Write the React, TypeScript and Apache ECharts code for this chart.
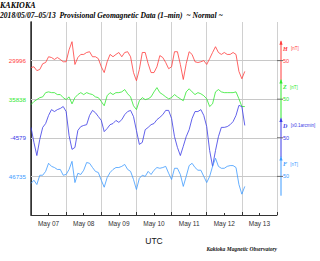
import React, { useEffect, useRef } from 'react';
import * as echarts from 'echarts';

// ---- data (2-hour samples from 2018-05-07 00:00 UTC) ----
const DAY_LABELS = ['May 07', 'May 08', 'May 09', 'May 10', 'May 11', 'May 12', 'May 13'];
const STEP_HOURS = 2;

const H_BASE = 29996;
const Z_BASE = 35838;
const D_BASE = -4579;
const F_BASE = 46735;

const H_VALUES = [
  29978, 29980, 29970, 29973, 29988, 29991, 30006, 30004, 29999, 30004,
  29999, 29993, 29993, 30024, 30045, 29986, 30004, 30012, 30012, 30017,
  30019, 30006, 30006, 30001, 29980, 29965, 29993, 30012, 30006, 30012,
  30017, 30006, 30017, 30019, 30006, 29965, 29944, 29973, 30017, 30017,
  29988, 29965, 29965, 29980, 30009, 30004, 29991, 29975, 29980, 30019,
  30019, 29986, 29947, 29988, 30019, 30012, 29993, 29991, 29993, 29996,
  29986, 30001, 30017, 30032, 30017, 30012, 30017, 30012, 30012, 30017,
  30012, 29968, 29949, 29968,
];
const Z_VALUES = [
  35824, 35832, 35837, 35842, 35844, 35855, 35857, 35855, 35855, 35850,
  35850, 35842, 35837, 35844, 35826, 35842, 35850, 35855, 35850, 35855,
  35852, 35850, 35844, 35842, 35832, 35821, 35847, 35855, 35850, 35855,
  35855, 35857, 35863, 35852, 35844, 35821, 35811, 35834, 35842, 35837,
  35839, 35844, 35857, 35868, 35855, 35850, 35844, 35839, 35842, 35850,
  35844, 35839, 35834, 35857, 35865, 35857, 35850, 35855, 35852, 35847,
  35839, 35819, 35826, 35857, 35863, 35857, 35855, 35855, 35855, 35855,
  35857, 35839, 35819, 35819,
];
const D_VALUES = [
  -4552, -4591, -4625, -4583, -4552, -4542, -4521, -4506, -4511, -4506,
  -4503, -4498, -4511, -4573, -4609, -4604, -4560, -4550, -4547, -4545,
  -4521, -4508, -4514, -4524, -4534, -4563, -4555, -4545, -4542, -4534,
  -4539, -4532, -4519, -4511, -4508, -4524, -4560, -4596, -4591, -4558,
  -4552, -4545, -4542, -4532, -4526, -4519, -4508, -4508, -4529, -4576,
  -4604, -4625, -4601, -4576, -4558, -4529, -4511, -4511, -4506, -4521,
  -4550, -4612, -4653, -4612, -4576, -4552, -4552, -4550, -4545, -4537,
  -4521, -4495, -4498, -4547,
];
const F_VALUES = [
  46717, 46725, 46714, 46738, 46738, 46748, 46769, 46761, 46758, 46753,
  46753, 46738, 46740, 46753, 46774, 46719, 46743, 46740, 46751, 46771,
  46769, 46758, 46748, 46745, 46725, 46707, 46732, 46745, 46753, 46758,
  46758, 46761, 46766, 46753, 46748, 46727, 46701, 46730, 46738, 46735,
  46748, 46740, 46751, 46758, 46756, 46758, 46761, 46743, 46727, 46756,
  46756, 46740, 46709, 46735, 46763, 46769, 46758, 46751, 46751, 46735,
  46719, 46735, 46761, 46782, 46761, 46756, 46756, 46761, 46763, 46763,
  46758, 46714, 46689, 46709,
];

const NAMES = ['H', 'Z', 'D', 'F'];
const UNITS = ['[nT]', '[nT]', '[x0.1arcmin]', '[nT]'];
const BASES = [H_BASE, Z_BASE, D_BASE, F_BASE];
const SERIES_VALUES = [H_VALUES, Z_VALUES, D_VALUES, F_VALUES];
const COLORS = ['#ff3c3c', '#2ee82e', '#3a3ae6', '#3d9bff'];
const SCALE_LABEL = '50';

// layout: each trace's base sits 100 nT apart in a 500 nT tall panel
const SPAN = 500;
const LEVELS = [400, 300, 200, 100];

const SERIF = '"Liberation Serif", "DejaVu Serif", serif';
const SANS = '"Liberation Sans", Arial, sans-serif';

export default function App() {
  const ref = useRef<HTMLDivElement>(null);

  useEffect(() => {
    if (!ref.current) return;
    const chart = echarts.init(ref.current, undefined, { renderer: 'svg' });

    const yAxes = BASES.map((base, k) => ({
      type: 'value',
      gridIndex: 0,
      min: base - LEVELS[k],
      max: base + (SPAN - LEVELS[k]),
      show: k < 2,
      position: k === 0 ? 'left' : 'right',
      axisLine: { show: true, lineStyle: { color: '#333', width: k === 0 ? 1.5 : 1 } },
      axisTick: { show: false },
      axisLabel: { show: false },
      splitLine: { show: false },
    }));

    const series = SERIES_VALUES.map((vals, k) => ({
      type: 'line',
      name: NAMES[k],
      xAxisIndex: 0,
      yAxisIndex: k,
      showSymbol: false,
      symbol: 'none',
      data: vals.map((v, i) => [i * STEP_HOURS, v]),
      lineStyle: { color: COLORS[k], width: 0.8 },
      itemStyle: { color: COLORS[k] },
      z: 3,
      markLine: {
        silent: true,
        symbol: ['none', 'none'],
        animation: false,
        lineStyle: { color: '#c8c8c8', width: 1, type: 'solid' },
        label: {
          show: true,
          position: 'start',
          distance: 5,
          formatter: String(BASES[k]),
          color: COLORS[k],
          fontSize: 6.2,
          fontFamily: SANS,
        },
        data: [{ yAxis: BASES[k] }],
        z: 1,
      },
    }));

    chart.setOption({
      animation: false,
      backgroundColor: '#ffffff',
      title: {
        text: 'KAKIOKA',
        subtext: '2018/05/07\u201305/13  Provisional Geomagnetic Data (1\u2013min)  ~ Normal ~',
        left: 0,
        top: 1,
        padding: 0,
        itemGap: 2,
        textStyle: { fontFamily: SERIF, fontStyle: 'italic', fontWeight: 'bold', fontSize: 8, color: '#000' },
        subtextStyle: { fontFamily: SERIF, fontStyle: 'italic', fontWeight: 'bold', fontSize: 7.6, color: '#000' },
      },
      grid: { left: 31, right: 43, top: 22, bottom: 46, containLabel: false },
      xAxis: [
        {
          type: 'value',
          min: 0,
          max: 168,
          interval: 24,
          axisLine: { show: true, lineStyle: { color: '#333', width: 1 } },
          axisTick: { show: true, inside: true, length: 3, lineStyle: { color: '#333' } },
          axisLabel: { show: false },
          splitLine: { show: true, lineStyle: { color: '#d0d0d0', width: 1 } },
          name: 'UTC',
          nameLocation: 'middle',
          nameGap: 21,
          nameTextStyle: { fontFamily: SANS, fontSize: 8.5, color: '#111' },
        },
        {
          type: 'value',
          min: 0,
          max: 168,
          interval: 12,
          position: 'bottom',
          axisLine: { show: false },
          axisTick: { show: true, inside: true, length: 2, lineStyle: { color: '#333' } },
          splitLine: { show: false },
          axisLabel: {
            show: true,
            margin: 5,
            fontSize: 6.5,
            fontFamily: SANS,
            color: '#333',
            formatter: (v: number) => (v % 24 === 12 ? DAY_LABELS[(v - 12) / 24] : ''),
          },
        },
      ],
      yAxis: yAxes,
      series,
    });

    // scale bars at the right of the panel
    const xRight = chart.convertToPixel({ xAxisIndex: 0 }, 168) as number;
    const barX = xRight + 4;
    const graphics: any[] = [];
    BASES.forEach((base, k) => {
      const yb = chart.convertToPixel({ yAxisIndex: k }, base) as number;
      const yt = chart.convertToPixel({ yAxisIndex: k }, base + 50) as number;
      const yl = chart.convertToPixel({ yAxisIndex: k }, base - 50) as number;
      graphics.push(
        { type: 'line', silent: true, shape: { x1: barX, y1: yt, x2: barX, y2: yl }, style: { stroke: COLORS[k], lineWidth: 1 } },
        { type: 'polygon', silent: true, shape: { points: [[barX - 1.6, yt + 3.5], [barX, yt - 1], [barX + 1.6, yt + 3.5]] }, style: { fill: COLORS[k] } },
        { type: 'line', silent: true, shape: { x1: xRight, y1: yb, x2: barX + 2, y2: yb }, style: { stroke: '#666', lineWidth: 1 } },
        {
          type: 'text', silent: true, x: barX + 2, y: yb,
          style: { text: SCALE_LABEL, fill: COLORS[k], fontSize: 5.5, fontFamily: SANS, verticalAlign: 'middle', align: 'left' },
        },
        {
          type: 'text', silent: true, x: barX + 2, y: yb - 12,
          style: {
            text: `{n|${NAMES[k]}} {u|${UNITS[k]}}`,
            verticalAlign: 'middle',
            align: 'left',
            rich: {
              n: { fontFamily: SERIF, fontStyle: 'italic', fontWeight: 'bold', fontSize: 6, fill: COLORS[k], verticalAlign: 'middle' },
              u: { fontFamily: SANS, fontSize: 4.5, fill: COLORS[k], verticalAlign: 'middle' },
            },
          },
        },
      );
    });
    graphics.push({
      type: 'text', silent: true, right: 43, top: 246,
      style: { text: 'Kakioka Magnetic Observatory', fontFamily: SERIF, fontStyle: 'italic', fontWeight: 'bold', fontSize: 5.5, fill: '#111' },
    });
    chart.setOption({ graphic: graphics });

    return () => chart.dispose();
  }, []);

  return <div ref={ref} style={{ position: 'fixed', left: 0, top: 0, width: 320, height: 261, background: '#fff' }} />;
}
